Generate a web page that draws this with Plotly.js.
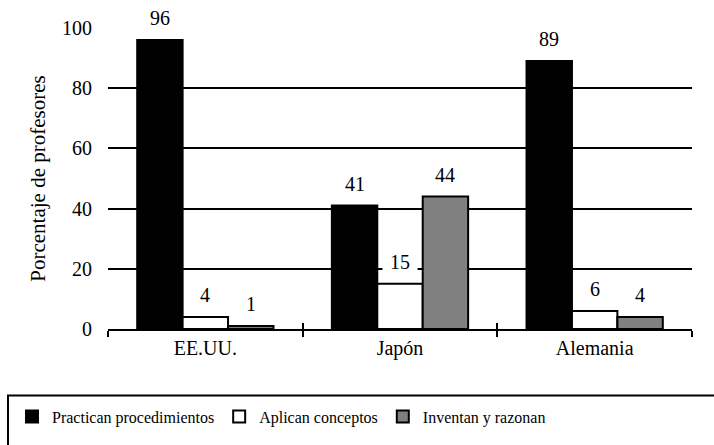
<!DOCTYPE html>
<html>
<head>
<meta charset="utf-8">
<script src="https://cdn.plot.ly/plotly-3.0.1.min.js"></script>
<style>html,body{margin:0;padding:0;background:#fff;}#chart{width:714px;height:445px;}</style>
</head>
<body>
<div id="chart"></div>
<script>
var categories = ["EE.UU.", "Japón", "Alemania"];
var seriesNames = ["Practican procedimientos", "Aplican conceptos", "Inventan y razonan"];
var practican = [96, 41, 89];
var aplican = [4, 15, 6];
var inventan = [1, 44, 4];
var yTicks = [0, 20, 40, 60, 80, 100];

var FONT = "serif";
var values = [practican, aplican, inventan];
var fills = ["#000000", "#ffffff", "#808080"];

var traces = values.map(function (v, i) {
  return {
    type: "bar",
    name: seriesNames[i],
    x: categories,
    y: v,
    marker: { color: fills[i], line: { color: "#000000", width: 2 } },
    hoverinfo: "none"
  };
});
traces.push({
  type: "scatter", x: [-0.5, 2.5], y: [0, 0], xaxis: "x2", yaxis: "y",
  mode: "none", showlegend: false, hoverinfo: "none"
});

var nS = values.length;
var annotations = [];
values.forEach(function (v, i) {
  v.forEach(function (val, j) {
    annotations.push({
      x: j + (i - (nS - 1) / 2) * 0.7 / nS,
      xref: "x2",
      y: val, yref: "y",
      text: String(val),
      showarrow: false,
      yanchor: "middle",
      yshift: 22,
      bgcolor: "#ffffff",
      borderpad: 7,
      font: { family: FONT, size: 20, color: "#000" }
    });
  });
});

var layout = {
  width: 714, height: 445,
  margin: { l: 108, r: 22, t: 28, b: 114 },
  paper_bgcolor: "#fff", plot_bgcolor: "#fff",
  barmode: "group", bargap: 0.3, bargroupgap: 0,
  font: { family: FONT },
  xaxis: {
    type: "category",
    tickson: "boundaries",
    ticks: "outside", ticklen: 6, tickwidth: 2, tickcolor: "#000",
    showline: true, linecolor: "#000", linewidth: 2,
    showgrid: false, zeroline: false,
    tickfont: { family: FONT, size: 20, color: "#000" }
  },
  xaxis2: {
    overlaying: "x", anchor: "y", range: [-0.5, 2.5],
    tickmode: "array", tickvals: [-0.5, 0.5, 1.5, 2.5],
    ticks: "inside", ticklen: 6, tickwidth: 2, tickcolor: "#000",
    showticklabels: false, showgrid: false, showline: false, zeroline: false
  },
  yaxis: {
    range: [0, 100],
    tickmode: "array", tickvals: yTicks,
    showgrid: true, gridcolor: "#000", gridwidth: 2,
    showline: false, zeroline: false,
    ticks: "outside", ticklen: 11, tickcolor: "rgba(0,0,0,0)",
    tickfont: { family: FONT, size: 20, color: "#000" },
    title: { text: "Porcentaje de profesores", font: { family: FONT, size: 21, color: "#000" }, standoff: 10 }
  },
  showlegend: true,
  legend: {
    orientation: "h",
    x: (12 - 108) / 584, xanchor: "left",
    y: -(402 - 331) / 303, yanchor: "top",
    font: { family: FONT, size: 16, color: "#000" },
    bgcolor: "rgba(0,0,0,0)", borderwidth: 0,
    traceorder: "normal"
  },
  shapes: [{
    type: "rect", xref: "paper", yref: "paper",
    x0: (8 - 108) / 584, x1: (730 - 108) / 584,
    y0: -(398 - 331) / 303, y1: -(460 - 331) / 303,
    line: { color: "#000", width: 2 }, fillcolor: "rgba(0,0,0,0)"
  }],
  annotations: annotations
};

Plotly.newPlot("chart", traces, layout, { staticPlot: true });
</script>
</body>
</html>
